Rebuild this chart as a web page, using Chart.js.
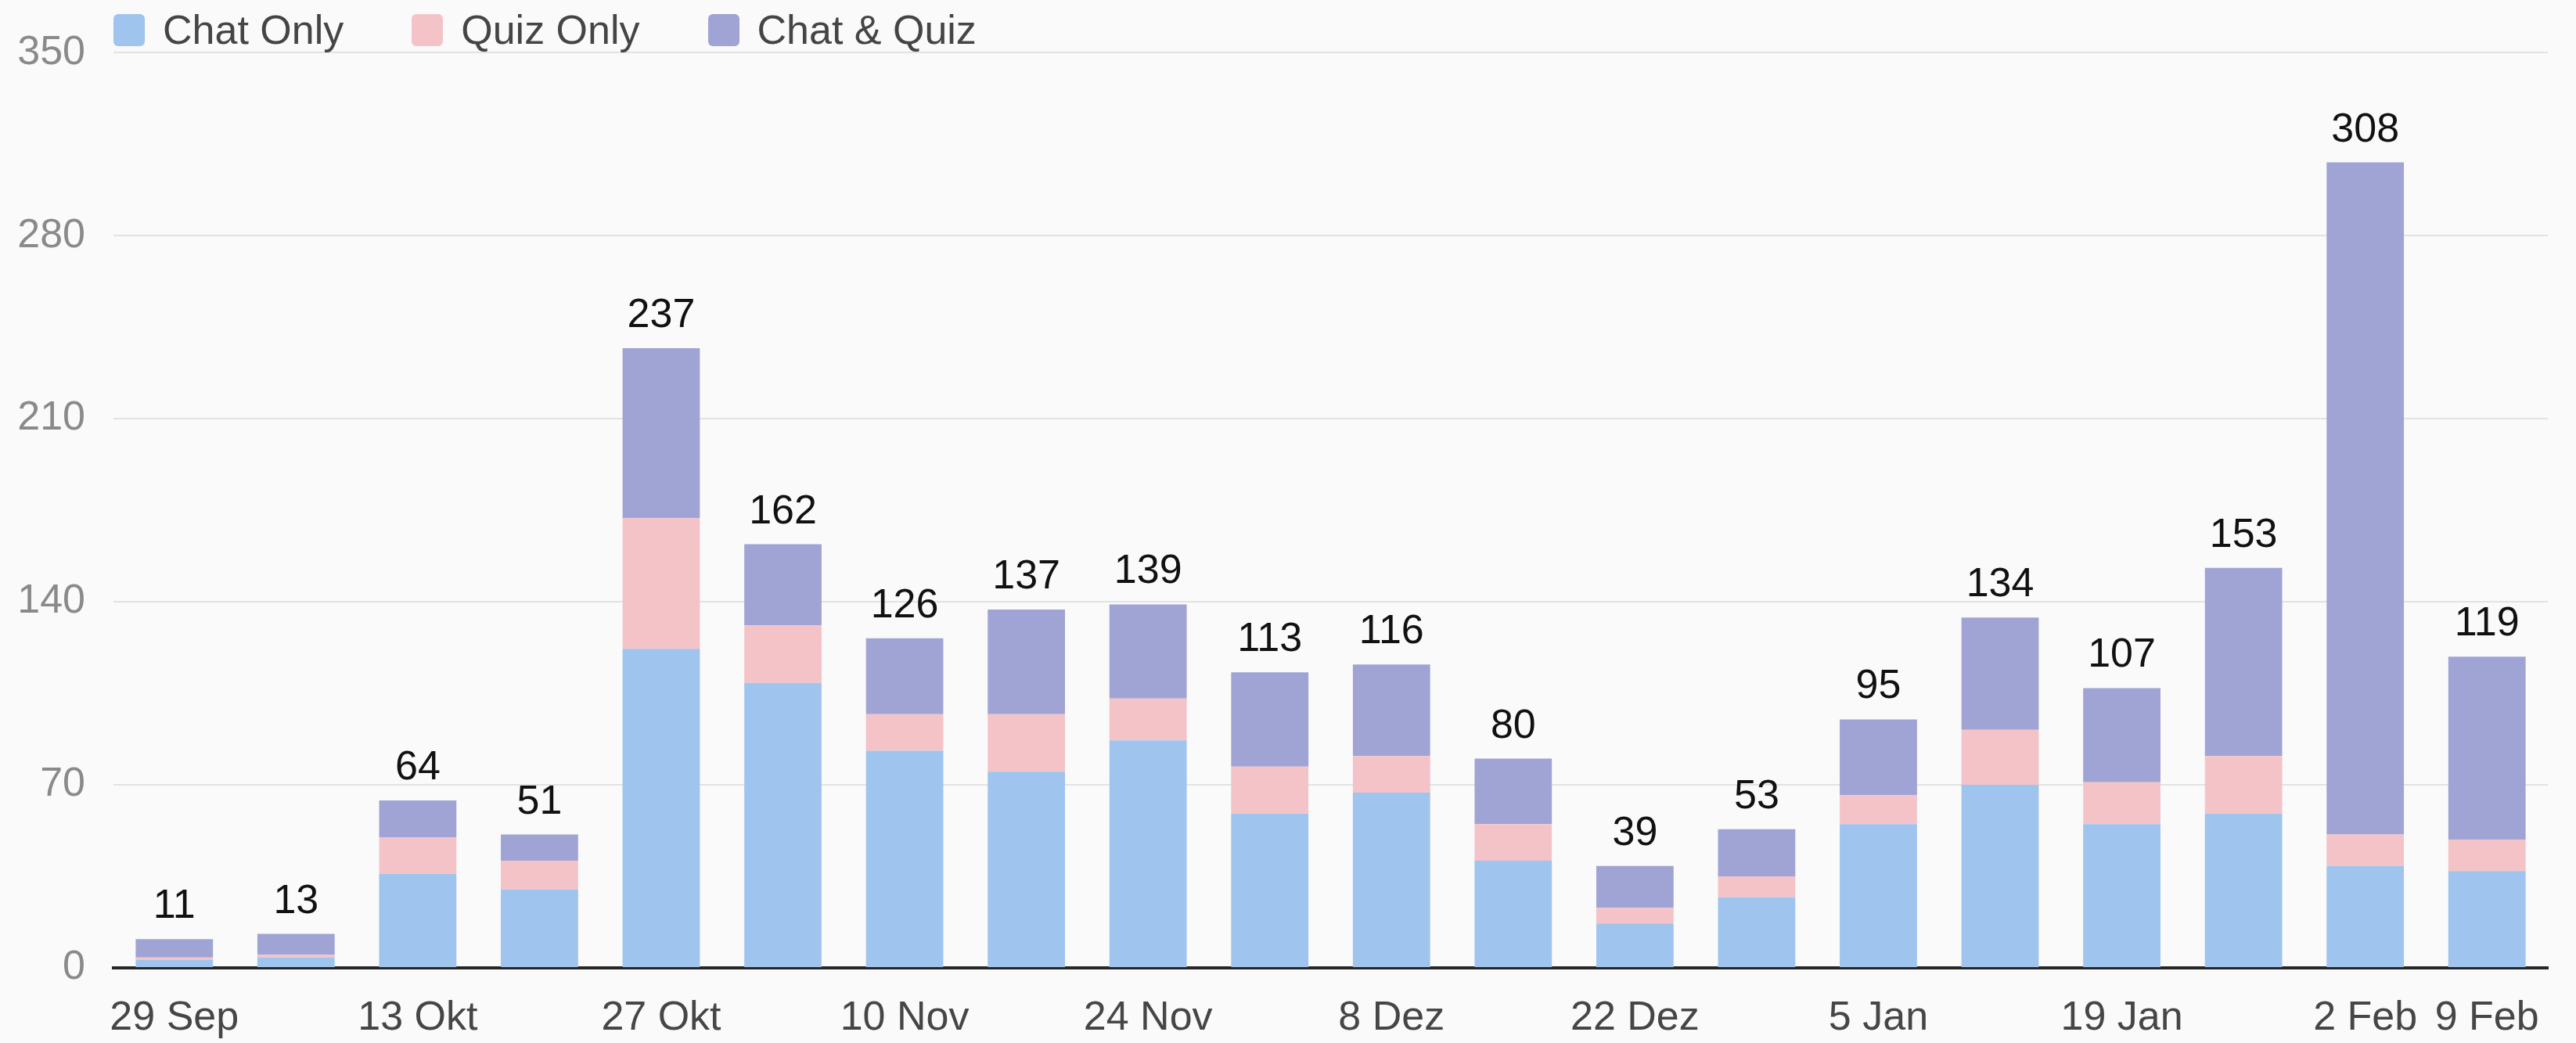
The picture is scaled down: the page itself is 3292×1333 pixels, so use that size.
<!DOCTYPE html>
<html>
<head>
<meta charset="utf-8">
<script src="https://cdn.jsdelivr.net/npm/chart.js@4.4.1/dist/chart.umd.min.js"></script>
<style>
  html, body { margin: 0; padding: 0; background: #fafafa; }
  #wrap { position: relative; width: 3292px; height: 1333px; }
  #legend { position: absolute; left: 145px; top: 12px; display: flex; font-family: "Liberation Sans", Arial, sans-serif; font-size: 52px; line-height: 52px; color: #454545; }
  .item { display: flex; align-items: center; margin-right: 87px; }
  .box { width: 40px; height: 41px; border-radius: 6px; margin-right: 23px; }
</style>
</head>
<body>
<div id="wrap">
  <canvas id="c" width="3292" height="1333"></canvas>
  <div id="legend"></div>
</div>
<script>
const categories = ["29 Sep","6 Okt","13 Okt","20 Okt","27 Okt","3 Nov","10 Nov","17 Nov","24 Nov","1 Dez","8 Dez","15 Dez","22 Dez","29 Dez","5 Jan","12 Jan","19 Jan","26 Jan","2 Feb","9 Feb"];
const chatOnly    = [3, 4, 36, 30, 122, 109, 83, 75, 87, 59, 67, 41, 17, 27, 55, 70, 55, 59, 39, 37];
const quizOnly    = [1, 1, 14, 11, 50, 22, 14, 22, 16, 18, 14, 14, 6, 8, 11, 21, 16, 22, 12, 12];
const chatAndQuiz = [7, 8, 14, 10, 65, 31, 29, 40, 36, 36, 35, 25, 16, 18, 29, 43, 36, 72, 257, 70];
const seriesNames = ["Chat Only", "Quiz Only", "Chat & Quiz"];
const yTicks = [0, 70, 140, 210, 280, 350];

const FONT = "'Liberation Sans', Arial, sans-serif";

const totalsPlugin = {
  id: 'totals',
  afterDatasetsDraw(chart) {
    const ctx = chart.ctx;
    const y = chart.scales.y;
    const metaTop = chart.getDatasetMeta(chart.data.datasets.length - 1);
    ctx.save();
    ctx.font = "52px " + FONT;
    ctx.fillStyle = "#111";
    ctx.textAlign = "center";
    ctx.textBaseline = "alphabetic";
    categories.forEach((c, i) => {
      const total = chart.data.datasets.reduce((s, d) => s + d.data[i], 0);
      const px = metaTop.data[i].x;
      const py = y.getPixelForValue(total);
      ctx.fillText(String(total), px, py - 27);
    });
    ctx.restore();
  }
};

const htmlLegend = {
  id: 'htmlLegend',
  afterUpdate(chart) {
    const el = document.getElementById('legend');
    el.innerHTML = '';
    chart.data.datasets.forEach(ds => {
      const item = document.createElement('div');
      item.className = 'item';
      const box = document.createElement('span');
      box.className = 'box';
      box.style.background = ds.backgroundColor;
      const t = document.createElement('span');
      t.textContent = ds.label;
      item.appendChild(box);
      item.appendChild(t);
      el.appendChild(item);
    });
  }
};

new Chart(document.getElementById('c'), {
  type: 'bar',
  data: {
    labels: categories,
    datasets: [
      { label: seriesNames[0], data: chatOnly, backgroundColor: '#9FC4EE' },
      { label: seriesNames[1], data: quizOnly, backgroundColor: '#F4C3C8' },
      { label: seriesNames[2], data: chatAndQuiz, backgroundColor: '#A0A4D4' }
    ]
  },
  options: {
    responsive: false,
    animation: false,
    devicePixelRatio: 1,
    layout: { padding: { left: 0, top: 58, right: 36, bottom: 0 } },
    datasets: { bar: { categoryPercentage: 1.0, barPercentage: 0.635 } },
    plugins: {
      legend: { display: false },
      tooltip: { enabled: false }
    },
    scales: {
      x: {
        stacked: true,
        grid: { display: false, drawTicks: false },
        border: { display: true, color: '#262626', width: 4 },
        afterFit: (axis) => { axis.height = 96; },
        ticks: {
          autoSkip: false, maxRotation: 0, minRotation: 0,
          padding: 33,
          color: '#464646',
          font: { family: FONT, size: 52 },
          callback: function(val, idx) {
            return (idx % 2 === 0 || idx === categories.length - 1) ? this.getLabelForValue(val) : '';
          }
        }
      },
      y: {
        stacked: true,
        min: 0, max: 350,
        afterBuildTicks: (axis) => { axis.ticks = yTicks.map(v => ({ value: v })); },
        afterFit: (axis) => { axis.width = 145; },
        grid: { color: '#e2e2e2', lineWidth: 2, drawTicks: false },
        border: { display: false },
        ticks: {
          padding: 36,
          color: '#8a8a8a',
          font: { family: FONT, size: 52 }
        }
      }
    }
  },
  plugins: [totalsPlugin, htmlLegend]
});
</script>
</body>
</html>
